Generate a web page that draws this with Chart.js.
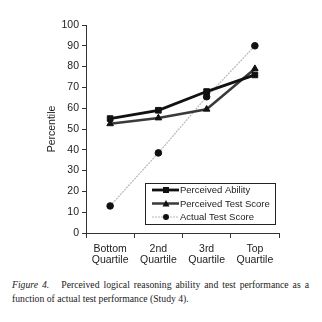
<!DOCTYPE html>
<html>
<head>
<meta charset="utf-8">
<script src="https://cdn.jsdelivr.net/npm/chart.js@4.4.1/dist/chart.umd.min.js"></script>
<style>
  html, body { margin: 0; padding: 0; background: #fff; }
  #wrap { position: relative; width: 322px; height: 322px; }
  #chart { position: absolute; left: 0; top: 0; }
  #caption {
    position: absolute; left: 12px; top: 278px; width: 297px;
    font-family: "Liberation Serif", "DejaVu Serif", serif; font-size: 9.7px;
    line-height: 13.5px; color: #222; text-align: justify; text-align-last: left;
  }
</style>
</head>
<body>
<div id="wrap">
  <canvas id="chart" width="322" height="270"></canvas>
  <div id="caption"><i>Figure 4.</i> &nbsp;&nbsp;Perceived logical reasoning ability and test performance as a function of actual test performance (Study 4).</div>
</div>
<script>
const categories = [["Bottom", "Quartile"], ["2nd", "Quartile"], ["3rd", "Quartile"], ["Top", "Quartile"]];
const perceivedAbility = [55, 59, 68, 76];
const perceivedTestScore = [52.5, 55.3, 59.5, 79];
const actualTestScore = [13, 38.5, 65.5, 90];
const yTicks = [0, 10, 20, 30, 40, 50, 60, 70, 80, 90, 100];

const FONT = "'Liberation Sans', Arial, sans-serif";

// legend drawn inside the plot with a frame, like the original
const boxLegend = {
  id: "boxLegend",
  afterDraw(chart) {
    const ctx = chart.ctx;
    const x0 = 145, y0 = 183, w = 130, h = 41;
    ctx.save();
    ctx.fillStyle = "#fff";
    ctx.fillRect(x0, y0, w, h);
    ctx.strokeStyle = "#222";
    ctx.lineWidth = 1;
    ctx.strokeRect(x0 + 0.5, y0 + 0.5, w, h);
    ctx.font = "9.5px " + FONT;
    ctx.textBaseline = "middle";
    chart.data.datasets.forEach((ds, i) => {
      const y = y0 + 7 + i * 13.5;
      ctx.strokeStyle = ds.borderColor;
      ctx.lineWidth = ds.borderWidth;
      ctx.setLineDash(ds.borderDash || []);
      ctx.beginPath();
      ctx.moveTo(x0 + 7, y);
      ctx.lineTo(x0 + 34, y);
      ctx.stroke();
      ctx.setLineDash([]);
      ctx.fillStyle = "#111";
      const mx = x0 + 21;
      if (ds.pointStyle === "rect") {
        ctx.fillRect(mx - 3, y - 3, 6, 6);
      } else if (ds.pointStyle === "triangle") {
        ctx.beginPath();
        ctx.moveTo(mx, y - 3.5);
        ctx.lineTo(mx + 3.5, y + 3);
        ctx.lineTo(mx - 3.5, y + 3);
        ctx.closePath();
        ctx.fill();
      } else {
        ctx.beginPath();
        ctx.arc(mx, y, 3, 0, Math.PI * 2);
        ctx.fill();
      }
      ctx.fillStyle = "#222";
      ctx.fillText(ds.label, x0 + 35, y + 0.5);
    });
    ctx.restore();
  }
};

const ctx = document.getElementById("chart").getContext("2d");
new Chart(ctx, {
  type: "line",
  data: {
    labels: categories,
    datasets: [
      {
        label: "Perceived Ability",
        data: perceivedAbility,
        borderColor: "#111",
        borderWidth: 2.8,
        pointStyle: "rect",
        pointRadius: 4,
        pointBorderWidth: 1,
        pointBackgroundColor: "#111",
        pointBorderColor: "#111",
        order: 1
      },
      {
        label: "Perceived Test Score",
        data: perceivedTestScore,
        borderColor: "#3a3a3a",
        borderWidth: 2.5,
        pointStyle: "triangle",
        pointRadius: 3.8,
        pointBorderWidth: 1,
        pointBackgroundColor: "#111",
        pointBorderColor: "#111",
        order: 2
      },
      {
        label: "Actual Test Score",
        data: actualTestScore,
        borderColor: "#b8b8b8",
        borderWidth: 1.2,
        borderDash: [2, 1],
        pointStyle: "circle",
        pointRadius: 3.3,
        pointBorderWidth: 1,
        pointBackgroundColor: "#111",
        pointBorderColor: "#111",
        order: 3
      }
    ]
  },
  options: {
    responsive: false,
    animation: false,
    layout: { padding: { top: 25, right: 43, left: 46, bottom: 0 } },
    plugins: { legend: { display: false }, tooltip: { enabled: false } },
    elements: { line: { tension: 0 } },
    scales: {
      x: {
        offset: true,
        grid: { offset: true, drawOnChartArea: false, color: "#333", tickLength: 5 },
        border: { color: "#333", width: 1 },
        ticks: { color: "#222", font: { family: FONT, size: 10.5, lineHeight: 1.1 }, maxRotation: 0, padding: 5 },
        afterFit: s => { s.height = 37; }
      },
      y: {
        min: 0,
        max: 100,
        afterBuildTicks: s => { s.ticks = yTicks.map(v => ({ value: v })); },
        grid: { drawOnChartArea: false, color: "#333", tickLength: 4 },
        border: { color: "#333", width: 1 },
        ticks: { color: "#222", font: { family: FONT, size: 10.5 }, padding: 3 },
        title: { display: true, text: "Percentile", color: "#222", font: { family: FONT, size: 10.5 }, padding: 0 },
        afterFit: s => { s.width = 40; }
      }
    }
  },
  plugins: [boxLegend]
});
</script>
</body>
</html>
